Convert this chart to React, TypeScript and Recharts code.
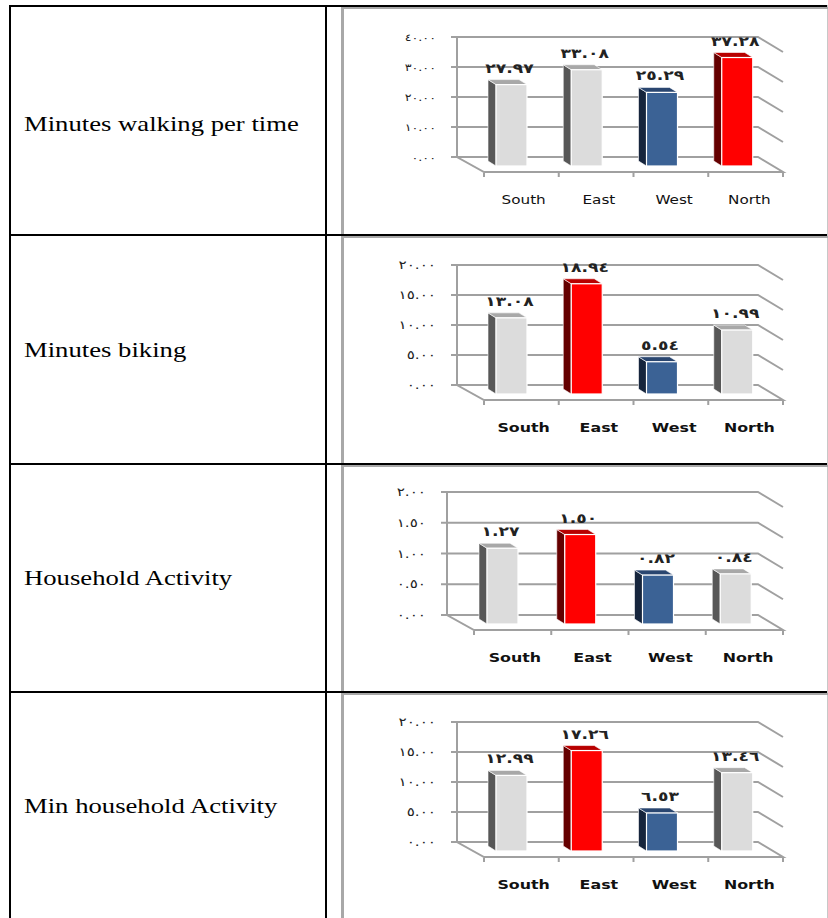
import React from 'react';
import { BarChart, Bar, XAxis, YAxis, CartesianGrid, LabelList } from 'recharts';

// ---------- data ----------
const categories = ['South', 'East', 'West', 'North'];
const walkingValues = [27.97, 33.08, 25.29, 37.28];
const bikingValues = [13.08, 18.94, 5.54, 10.99];
const householdValues = [1.27, 1.5, 0.82, 0.84];
const minHouseholdValues = [12.99, 17.26, 6.53, 13.46];
const walkingTicks = [0, 10, 20, 30, 40];
const bikingTicks = [0, 5, 10, 15, 20];
const householdTicks = [0, 0.5, 1, 1.5, 2];
const minHouseholdTicks = [0, 5, 10, 15, 20];
const rowLabels = ['Minutes walking per time', 'Minutes biking', 'Household Activity', 'Min household Activity'];

// ---------- layout / style ----------
const SX = 1.27; // horizontal stretch of the source picture
const ROW_TOPS = [5, 234, 463, 691];
const LABEL_CENTERS = [123.5, 350, 578, 806];
const CHART_LEFT = 344;
const CHART_W = 484;
const CHART_H = 224;
const Y_AXIS_W = 60;
const X_AXIS_H = 40;
const ROW_LAYOUT = [
  { plotLeft: 113, plotTop: 30, plotH: 120, plotW: 301, small: true },
  { plotLeft: 113, plotTop: 29, plotH: 120, plotW: 301, small: false },
  { plotLeft: 103, plotTop: 27, plotH: 123, plotW: 311, small: false },
  { plotLeft: 113, plotTop: 29, plotH: 120, plotW: 301, small: false },
];
const FLOOR_DX = 27;
const FLOOR_DY = 15;
const BAR_DX = 17;
const BAR_DY = 9;
const BAR_K = 0.97;
const SIDE_DX = 8;
const SIDE_DY = 5;
const GRID = '#A0A0A0';
const PALETTE: Record<string, { front: string; side: string; top: string }> = {
  gray: { front: '#DCDCDC', side: '#575757', top: '#A8A8A8' },
  red: { front: '#FF0000', side: '#650000', top: '#B80000' },
  blue: { front: '#3B6295', side: '#16253D', top: '#2A4670' },
};

const AR_DIGITS = ['٠', '١', '٢', '٣', '٤', '٥', '٦', '٧', '٨', '٩'];
const toArabic = (v: number) =>
  Number(v)
    .toFixed(2)
    .replace(/[0-9]/g, (d) => AR_DIGITS[Number(d)]);

const kindOf = (vals: number[], i: number) => {
  const mx = Math.max(...vals);
  const mn = Math.min(...vals);
  if (vals[i] === mx) return 'red';
  if (vals[i] === mn) return 'blue';
  return 'gray';
};

const project = (x: number, y: number, w: number, h: number) => {
  const bottom = y + h + BAR_DY;
  const fh = h * BAR_K;
  return { fx: x + BAR_DX, fy: bottom - fh, fw: w, fh, bottom };
};

const Bar3D = (props: any) => {
  const { x, y, width, height, payload } = props;
  if (width == null || height == null) return null;
  const c = PALETTE[payload.kind] || PALETTE.gray;
  const p = project(x, y, width, height);
  const side = `M${p.fx},${p.fy} L${p.fx - SIDE_DX},${p.fy - SIDE_DY} L${p.fx - SIDE_DX},${p.bottom - SIDE_DY} L${p.fx},${p.bottom} Z`;
  const top = `M${p.fx},${p.fy} L${p.fx + p.fw},${p.fy} L${p.fx + p.fw - SIDE_DX},${p.fy - SIDE_DY} L${p.fx - SIDE_DX},${p.fy - SIDE_DY} Z`;
  return (
    <g>
      <path d={side} fill={c.side} stroke="#ffffff" strokeWidth={0.6} />
      <path d={top} fill={c.top} stroke="#ffffff" strokeWidth={0.6} />
      <rect x={p.fx} y={p.fy} width={p.fw} height={p.fh} fill={c.front} stroke="#ffffff" strokeWidth={1.2} />
    </g>
  );
};

const makeValueLabel = (small: boolean) => (props: any) => {
  const vb = props.viewBox && props.viewBox.width != null ? props.viewBox : props;
  const { x, y, width, height } = vb;
  if (width == null) return null;
  const p = project(x, y, width, Math.abs(height));
  const cx = p.fx + p.fw / 2 - 2;
  return (
    <text
      transform={`translate(${cx},${p.fy - 12}) scale(${SX},1)`}
      textAnchor="middle"
      fontFamily="DejaVu Sans"
      fontWeight="bold"
      fontSize={small ? 13.5 : 13.5}
      letterSpacing={0.5}
      fill="#222"
    >
      {toArabic(props.value)}
    </text>
  );
};

const makeYTick = (small: boolean) => (props: any) => {
  const { x, y, payload } = props;
  return (
    <text
      transform={`translate(${x},${y + 4}) scale(${SX},1)`}
      textAnchor="end"
      fontFamily="DejaVu Sans"
      fontSize={small ? 10 : 12}
      letterSpacing={0.5}
      fill="#222"
    >
      {toArabic(payload.value)}
    </text>
  );
};

const makeXTick = (small: boolean) => (props: any) => {
  const { x, y, payload } = props;
  return (
    <text
      transform={`translate(${x + 29},${y + 47}) scale(${SX},1)`}
      textAnchor="middle"
      fontFamily="DejaVu Sans"
      fontWeight={small ? 'normal' : 'bold'}
      fontSize={small ? 12 : 12.5}
      fill="#111"
    >
      {payload.value}
    </text>
  );
};

const makeGridLine = (plotBottom: number, n: number) => (props: any) => {
  const { x1, y1, x2, index } = props;
  const k = `g-${index}-${y1}`;
  if (Math.abs(y1 - plotBottom) > 0.5) {
    return (
      <path
        key={k}
        d={`M${x1},${y1} H${x2} L${x2 + FLOOR_DX - 2},${y1 + FLOOR_DY}`}
        stroke={GRID}
        strokeWidth={2}
        fill="none"
      />
    );
  }
  const fl = x1 + FLOOR_DX;
  const fr = x2 + FLOOR_DX - 2;
  const fy = y1 + FLOOR_DY;
  const ticks = [];
  for (let i = 0; i <= n; i++) {
    const tx = fl + ((fr - fl) * i) / n;
    ticks.push(`M${tx},${fy} V${fy + 5}`);
  }
  return (
    <path
      key={k}
      d={`M${x1},${y1} H${x2} L${fr},${fy} H${fl} Z ${ticks.join(' ')}`}
      stroke={GRID}
      strokeWidth={2}
      fill="none"
    />
  );
};

const Chart3D = ({ values, ticks, row }: { values: number[]; ticks: number[]; row: number }) => {
  const L = ROW_LAYOUT[row];
  const data = categories.map((c, i) => ({ category: c, value: values[i], kind: kindOf(values, i) }));
  const margin = {
    top: L.plotTop,
    left: L.plotLeft - Y_AXIS_W,
    right: CHART_W - L.plotLeft - L.plotW,
    bottom: CHART_H - L.plotTop - L.plotH - X_AXIS_H,
  };
  return (
    <BarChart width={CHART_W} height={CHART_H} data={data} margin={margin}>
      <CartesianGrid
        vertical={false}
        horizontal={makeGridLine(L.plotTop + L.plotH, categories.length) as any}
        stroke={GRID}
      />
      <XAxis
        dataKey="category"
        height={X_AXIS_H}
        axisLine={false}
        tickLine={false}
        tickSize={0}
        tickMargin={0}
        interval={0}
        tick={makeXTick(L.small)}
      />
      <YAxis
        width={Y_AXIS_W}
        domain={[ticks[0], ticks[ticks.length - 1]]}
        ticks={ticks}
        interval={0}
        axisLine={{ stroke: GRID, strokeWidth: 2 }}
        tickLine={{ stroke: GRID, strokeWidth: 2 }}
        tickSize={6}
        tickMargin={15}
        tick={makeYTick(L.small)}
      />
      <Bar dataKey="value" barSize={31} shape={Bar3D} isAnimationActive={false}>
        <LabelList dataKey="value" content={makeValueLabel(L.small)} />
      </Bar>
    </BarChart>
  );
};

const seriesList = [walkingValues, bikingValues, householdValues, minHouseholdValues];
const tickList = [walkingTicks, bikingTicks, householdTicks, minHouseholdTicks];

export default function App() {
  return (
    <div
      style={{
        position: 'absolute',
        left: 0,
        top: 0,
        width: 828,
        height: 918,
        overflow: 'hidden',
        background: '#ffffff',
      }}
    >
      {/* table grid lines */}
      {ROW_TOPS.map((t, i) => (
        <div key={`h${i}`} style={{ position: 'absolute', left: 9, top: t, width: 819, height: 2, background: '#000' }} />
      ))}
      <div style={{ position: 'absolute', left: 9, top: 5, width: 2, height: 913, background: '#000' }} />
      <div style={{ position: 'absolute', left: 325, top: 5, width: 2, height: 913, background: '#000' }} />
      <div style={{ position: 'absolute', left: 827, top: 5, width: 1, height: 913, background: '#c8c8c8' }} />

      {rowLabels.map((lab, i) => (
        <div
          key={`l${i}`}
          style={{
            position: 'absolute',
            left: 24,
            top: LABEL_CENTERS[i] - 12,
            height: 24,
            lineHeight: '24px',
            fontFamily: '"Liberation Serif", "Times New Roman", serif',
            fontSize: 21,
            color: '#000',
            whiteSpace: 'nowrap',
            transform: `scaleX(${SX})`,
            transformOrigin: 'left center',
          }}
        >
          {lab}
        </div>
      ))}

      {seriesList.map((vals, i) => (
        <div key={`c${i}`}>
          <div
            style={{
              position: 'absolute',
              left: 341,
              top: ROW_TOPS[i] + 2,
              width: 487,
              height: (i < 3 ? ROW_TOPS[i + 1] : 920) - ROW_TOPS[i] - 2,
              borderLeft: '3px solid #a8a8a8',
              borderTop: '2px solid #a8a8a8',
              boxSizing: 'border-box',
            }}
          />
          <div style={{ position: 'absolute', left: CHART_LEFT, top: ROW_TOPS[i] + 2 }}>
            <Chart3D values={vals} ticks={tickList[i]} row={i} />
          </div>
        </div>
      ))}
    </div>
  );
}
